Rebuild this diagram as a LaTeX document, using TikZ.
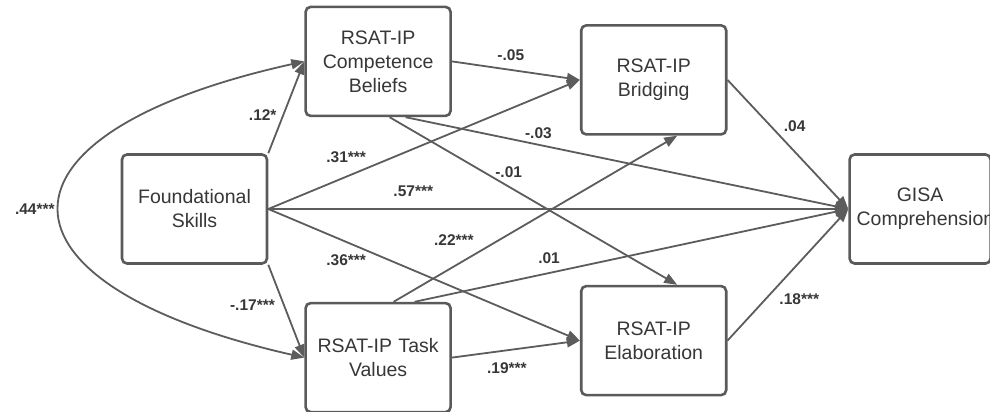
\documentclass[tikz,border=0pt]{standalone}
\usepackage{fontspec}
\setmainfont{Liberation Sans}
\usepackage{tikz}
\usetikzlibrary{arrows.meta, positioning}
\definecolor{boxgray}{RGB}{90, 90, 90}
\definecolor{linegray}{RGB}{92, 92, 92}
\definecolor{textgray}{RGB}{55, 55, 55}
\tikzstyle{box} = [rectangle, draw=boxgray, fill=white, line width=2.6pt, minimum width=145pt, minimum height=109pt, text width=131pt, inner sep=7pt, align=center, rounded corners=5pt, text=textgray, font=\fontsize{19.5}{24}\selectfont]
\tikzstyle{path} = [draw, -{Triangle[length=13pt, width=10pt]}, line width=1.8pt, linegray]
\tikzstyle{lbl} = [font=\bfseries\fontsize{15.5}{18}\selectfont, text=textgray, inner sep=2pt]

\begin{document}
\begin{tikzpicture}[x=1pt, y=-1pt]
    \useasboundingbox (0,0) rectangle (990,412);
    \clip (0,0) rectangle (990,412);
    % Nodes
    \node (found) [box] at (194.5,209) {Foundational\\Skills};
    \node (comp) [box, above right=36pt and 36pt of found] {RSAT-IP\\Competence\\Beliefs};
    \node (task) [box, below right=37pt and 36pt of found] {RSAT-IP Task\\Values};
    \node (bridge) [box, right=128pt of comp, yshift=-18.5pt] {RSAT-IP\\Bridging};
    \node (elab) [box, right=128pt of task, yshift=17pt] {RSAT-IP\\Elaboration};
    \node (gisa) [box, right=580pt of found, minimum width=141pt, text width=127pt] {GISA\\Comprehension};

    % Paths
    \draw [path, {Triangle[length=13pt, width=10pt]}-{Triangle[length=13pt, width=10pt]}] (comp.west) .. controls +(-325,72) and +(-325,-74) .. node[lbl, pos=0.5, left=3pt] {.44***} (task.west);
    \draw [path] (found.north east) -- node[lbl, pos=0.42, left=4pt] {.12*} (comp.west);
    \draw [path] (found.south east) -- node[lbl, pos=0.43, left=6pt] {-.17***} (task.west);
    \draw [path] (found.east) -- node[lbl, pos=0.25, above=11pt] {.31***} (bridge.west);
    \draw [path] (found.east) -- node[lbl, pos=0.25, above=9.5pt] {.57***} (gisa.west);
    \draw [path] (found.east) -- node[lbl, pos=0.25, below=9.5pt] {.36***} (elab.west);
    \draw [path] (comp.east) -- node[lbl, pos=0.46, above=6pt] {-.05} (bridge.west);
    \draw [path] ([xshift=27.5pt]comp.south) -- node[lbl, pos=0.3, above=3.5pt] {-.03} (gisa.west);
    \draw [path] ([xshift=11.5pt]comp.south) -- node[lbl, pos=0.414, above=6pt] {-.01} ([xshift=23.5pt]elab.north);
    \draw [path] ([xshift=15.5pt]task.north) -- node[lbl, pos=0.3, anchor=east, xshift=-2pt, yshift=12pt] {.22***} ([xshift=23.5pt]bridge.south);
    \draw [path] ([xshift=36.5pt]task.north) -- node[lbl, pos=0.31, above=6.5pt] {.01} (gisa.west);
    \draw [path] (task.east) -- node[lbl, pos=0.43, below=9pt] {.19***} (elab.west);
    \draw [path] (bridge.east) -- node[lbl, pos=0.36, right=10pt] {.04} (gisa.west);
    \draw [path] (elab.east) -- node[lbl, pos=0.315, right=11pt] {.18***} (gisa.west);
\end{tikzpicture}
\end{document}
